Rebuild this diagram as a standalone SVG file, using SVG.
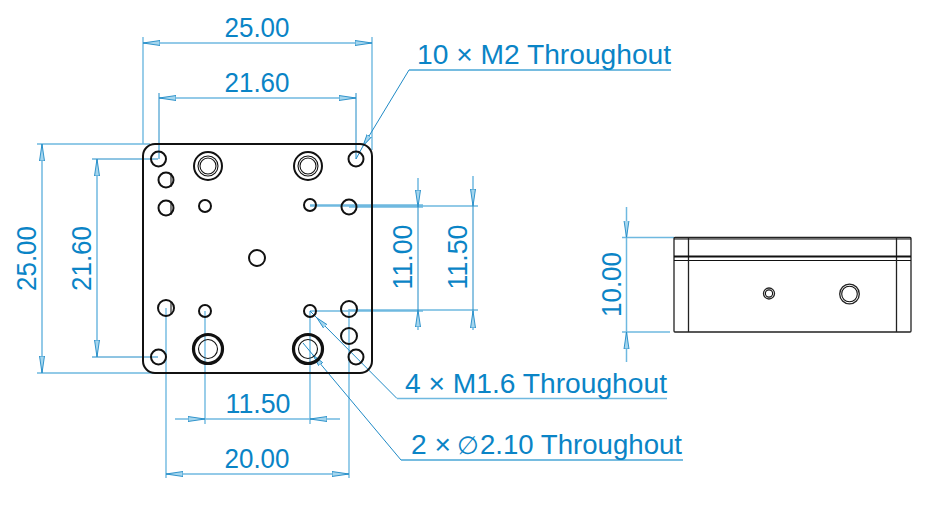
<svg xmlns="http://www.w3.org/2000/svg" width="929" height="514" viewBox="0 0 929 514">
<style>
.o{fill:none;stroke:#111;stroke-width:2}
.t{fill:none;stroke:#111;stroke-width:1.1}
.b{fill:none;stroke:#111;stroke-width:3.2}
.s{fill:none;stroke:#222;stroke-width:1.3}
.e{fill:none;stroke:#6fb9e0;stroke-width:1.4}
.d{fill:none;stroke:#1f8ac6;stroke-width:1}
.a{fill:none;stroke:#6fb9e0;stroke-width:1.5}
text{font-family:"Liberation Sans",Arial,sans-serif;font-size:28.2px;fill:#0a84c6}
.m{text-anchor:middle}
</style>
<defs>
<marker id="ar" markerUnits="userSpaceOnUse" markerWidth="20" markerHeight="8" refX="17" refY="4" orient="auto-start-reverse" viewBox="0 0 20 8">
<path d="M0,1.5 L17,4 L0,6.5 z" fill="#a5d6ee" stroke="#1f8ac6" stroke-width="0.9"/>
</marker>
<marker id="as" markerUnits="userSpaceOnUse" markerWidth="14" markerHeight="8" refX="12" refY="4" orient="auto" viewBox="0 0 14 8">
<path d="M0,1.5 L12,4 L0,6.5 z" fill="#a5d6ee" stroke="#1f8ac6" stroke-width="0.9"/>
</marker>
</defs>
<g id="connectors">
<path class="e" d="M143,37V144M372,37V150M37,144H150M37,373H158"/>
<path class="d" d="M159,93V159M356,93V159M92,159H158M92,357H158"/>
<path class="a" d="M143,43H372" marker-start="url(#ar)" marker-end="url(#ar)"/>
<path class="a" d="M159,98H356" marker-start="url(#ar)" marker-end="url(#ar)"/>
<path class="a" d="M42,144V373" marker-start="url(#ar)" marker-end="url(#ar)"/>
<path class="a" d="M97,159V357" marker-start="url(#ar)" marker-end="url(#ar)"/>
<path class="e" d="M310,205H423M349,207H423M310,311H423M349,310H478M310,206H478"/>
<path class="a" d="M418,178V207" marker-end="url(#ar)"/><path class="a" d="M418,330V310" marker-end="url(#ar)"/><path class="d" d="M418,207V310"/>
<path class="a" d="M473,176V206" marker-end="url(#ar)"/><path class="a" d="M473,330V311" marker-end="url(#ar)"/><path class="d" d="M473,206V311"/>
<path class="e" d="M166,308V478M349,309V478"/>
<path class="e" d="M205,311V424M310,311V424"/>
<path class="a" d="M175,419H205" marker-end="url(#ar)"/><path class="a" d="M340,419H310" marker-end="url(#ar)"/><path class="a" d="M205,419H310"/>
<path class="a" d="M166,474H349" marker-start="url(#ar)" marker-end="url(#ar)"/>
<path class="e" d="M622,237.5H674M622,332H670"/>
<path class="a" d="M626.5,207V237.5" marker-end="url(#ar)"/><path class="a" d="M626.5,362V332" marker-end="url(#ar)"/><path class="a" d="M626.5,237.5V332"/>
<path class="d" d="M671,70H409L363,146" marker-end="url(#as)"/><path class="d" d="M363,146L356,159"/>
<path class="d" d="M667,398.5H397L317,318" marker-end="url(#as)"/><path class="d" d="M317,318L310,311"/>
<path class="d" d="M683,460H401L313,355" marker-end="url(#as)"/><path class="d" d="M313,355L303,343"/>
<path class="e" d="M397,398.5H667M401,460H683M409,70H671"/>
</g>
<g id="plate"><rect class="o" x="143" y="144" width="229" height="229" rx="12"/></g>
<g id="holes">
<circle class="o" cx="158.5" cy="159" r="7.5"/>
<circle class="o" cx="166" cy="180" r="7.5"/><path class="t" d="M171,173V187"/>
<circle class="o" cx="166" cy="208" r="7.5"/><path class="t" d="M171,201V215"/>
<circle class="o" cx="205" cy="206" r="6"/>
<circle class="o" cx="208" cy="166" r="14"/><circle class="t" cx="208" cy="166" r="10"/><circle class="t" cx="208" cy="166" r="8"/>
<circle class="o" cx="308" cy="166" r="14"/><circle class="t" cx="308" cy="166" r="10"/><circle class="t" cx="308" cy="166" r="8"/>
<circle class="o" cx="356" cy="159" r="7.5"/>
<circle class="o" cx="310" cy="205" r="6"/>
<circle class="o" cx="349" cy="207" r="7.5"/>
<circle class="o" cx="257" cy="258" r="8"/>
<circle class="o" cx="166" cy="308" r="8"/><path class="t" d="M171,302V314"/>
<circle class="o" cx="205" cy="311" r="6"/>
<circle class="b" cx="208" cy="349" r="14.5"/><circle class="t" cx="208" cy="349" r="9.5"/>
<circle class="b" cx="308" cy="349" r="14.5"/><circle class="t" cx="308" cy="349" r="9.5"/>
<circle class="o" cx="158.5" cy="357" r="7.5"/>
<circle class="o" cx="310" cy="311" r="6"/>
<circle class="o" cx="349" cy="309" r="8"/>
<circle class="o" cx="349" cy="336" r="8"/>
<circle class="o" cx="356" cy="357" r="7.5"/>
</g>
<g id="side-view">
<rect class="s" x="674" y="237.5" width="237" height="94.5" rx="1"/>
<path class="t" d="M674,239H911M674,260.5H911"/>
<path class="s" d="M688.5,237.5V332M896.5,237.5V332"/>
<path class="o" d="M674,256.5H911"/>
<circle class="s" cx="769" cy="293.5" r="5.5"/><circle class="t" cx="769" cy="293.5" r="3.6"/>
<circle class="s" cx="849.5" cy="294" r="9.8"/><circle class="t" cx="849.5" cy="294" r="7.8"/>
</g>
<g id="labels">
<text class="m" x="257" y="37" textLength="65" lengthAdjust="spacingAndGlyphs">25.00</text>
<text class="m" x="257" y="92" textLength="65" lengthAdjust="spacingAndGlyphs">21.60</text>
<text class="m" transform="translate(36,258.5) rotate(-90)" textLength="65" lengthAdjust="spacingAndGlyphs">25.00</text>
<text class="m" transform="translate(91,258.5) rotate(-90)" textLength="65" lengthAdjust="spacingAndGlyphs">21.60</text>
<text class="m" transform="translate(412,257) rotate(-90)" textLength="65" lengthAdjust="spacingAndGlyphs">11.00</text>
<text class="m" transform="translate(467,257) rotate(-90)" textLength="65" lengthAdjust="spacingAndGlyphs">11.50</text>
<text class="m" x="258" y="413" textLength="65" lengthAdjust="spacingAndGlyphs">11.50</text>
<text class="m" x="257" y="468" textLength="65" lengthAdjust="spacingAndGlyphs">20.00</text>
<text class="m" transform="translate(621,284.5) rotate(-90)" textLength="65" lengthAdjust="spacingAndGlyphs">10.00</text>
<text x="417" y="64">10 × M2 Throughout</text>
<text x="405" y="393">4 × M1.6 Throughout</text>
<text x="411" y="454">2 ×<tspan x="457" font-size="25">∅</tspan><tspan x="480" font-size="27.6">2.10 Throughout</tspan></text>
</g>
</svg>
